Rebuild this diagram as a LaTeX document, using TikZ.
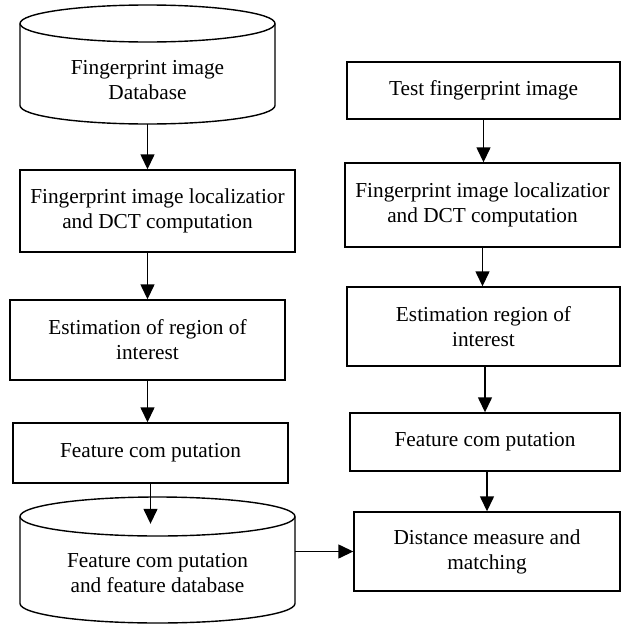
\documentclass[tikz,border=0pt]{standalone}
\usepackage{fontspec}
\setmainfont{Liberation Serif}
\usetikzlibrary{arrows.meta}
\tikzset{>={Triangle[length=15pt,width=14pt]}}
\tikzset{
    stage/.style={draw,line width=1.4pt,inner sep=0pt,align=center,font=\fontsize{21.3}{25}\selectfont},
    dbtext/.style={inner sep=0pt,align=center,font=\fontsize{21.3}{25}\selectfont},
    link/.style={->,line width=1.4pt}
}
\newcommand\dbcylinder[5]{
    \draw[line width=1.4pt] ({(#1+#2)/2},#3) ellipse [x radius={(#2-#1)/2},y radius=#5];
    \draw[line width=1.4pt] (#1,#3) -- (#1,#4) arc [start angle=180,end angle=0,x radius={(#2-#1)/2},y radius=#5] -- (#2,#3);
}

\begin{document}
\begin{tikzpicture}[x=1pt,y=-1pt]
            \useasboundingbox (0,0) rectangle (621,624);
            \dbcylinder{20}{275}{23.5}{105.5}{18.5}
            \dbcylinder{20}{295}{516.5}{603.5}{19.5}
            \node[dbtext,minimum width=255pt,minimum height=87pt] (imgdb) at (147.5,80.5) {Fingerprint image\\Database};
            \node[stage,minimum width=275pt,minimum height=82pt] (loc) at (157.5,211) {Fingerprint image localizatior\\and DCT computation};
            \node[stage,minimum width=275pt,minimum height=80pt] (roi) at (147.5,340) {Estimation of region of\\interest};
            \node[stage,minimum width=275pt,minimum height=60pt] (feat) at (150.5,453) {Feature com putation};
            \node[dbtext,minimum width=275pt,minimum height=99pt] (fdb) at (157.5,573.5) {Feature com putation\\and feature database};
            \node[stage,minimum width=273pt,minimum height=57pt] (test) at (483.5,90.5) {Test fingerprint image};
            \node[stage,minimum width=275pt,minimum height=84pt] (tloc) at (482.5,205) {Fingerprint image localizatior\\and DCT computation};
            \node[stage,minimum width=273pt,minimum height=79pt] (troi) at (483.5,326.5) {Estimation region of\\interest};
            \node[stage,minimum width=270pt,minimum height=58pt] (tfeat) at (485,442) {Feature com putation};
            \node[stage,minimum width=266pt,minimum height=79pt] (match) at (487,551.5) {Distance measure and\\matching};
            \draw[link] (imgdb.south) -- (loc.north -| imgdb.south);
            \draw[link] (loc.south -| roi.north) -- (roi.north);
            \draw[link] (roi.south) -- (feat.north -| roi.south);
            \draw[link] (feat.south) -- (fdb.north -| feat.south);
            \draw[link] (fdb.east |- match.west) -- (match.west);
            \draw[link] (test.south) -- (tloc.north -| test.south);
            \draw[link] (tloc.south) -- (troi.north -| tloc.south);
            \draw[link] (troi.south -| tfeat.north) -- (tfeat.north);
            \draw[link] (tfeat.south -| match.north) -- (match.north);
        \end{tikzpicture}
\end{document}
